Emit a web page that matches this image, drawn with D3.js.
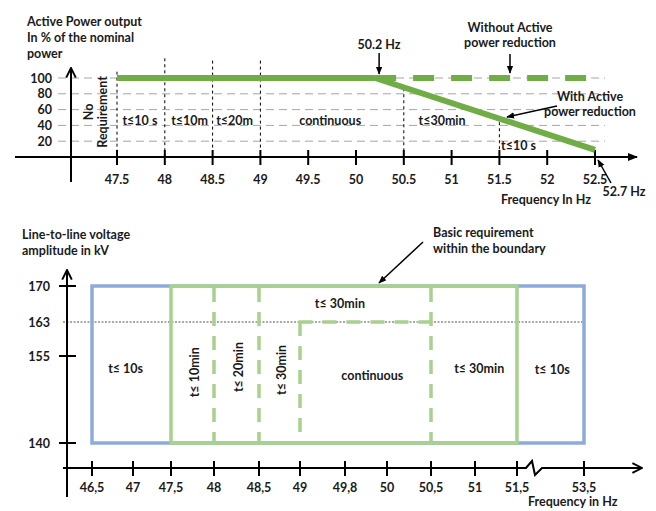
<!DOCTYPE html>
<html><head><meta charset="utf-8">
<script src="https://cdn.jsdelivr.net/npm/d3@7"></script>
<style>
body{margin:0;background:#fff;}
svg text{font-family:Lato,"Open Sans",sans-serif;fill:#1a1a1a;}
</style></head>
<body><svg id="c" width="656" height="511"></svg>
<script>
// ---------- DATA: top chart ----------
const topTicks = [47.5,48,48.5,49,49.5,50,50.5,51,51.5,52,52.5];
const topTickLabels = ["47.5","48","48.5","49","49.5","50","50.5","51","51.5","52","52.5"];
const topYTicks = [20,40,60,80,100];
const solidPower = [[47.5,100],[50.2,100]];
const noReduction = [[50.2,100],[52.5,100]];
const withReduction = [[50.2,100],[52.5,9]];
const topBoundFreq = [47.5,48,48.5,49,50.5,51.5];
const topBoundTop  = [108,125,122,122,87,44];
const topZoneLabels = ["t≤10 s","t≤10m","t≤20m","continuous","t≤30min","t≤10 s"];
const topZoneFreq   = [47.74,48.26,48.73,49.73,50.9,51.7];
const topZoneVal    = [46,46,46,46,46,15];

// ---------- DATA: bottom chart ----------
const botTicks = [46.5,47,47.5,48,48.5,49,49.8,50,50.5,51,51.5,53.5];
const botTickLabels = ["46,5","47","47,5","48","48,5","49","49,8","50","50,5","51","51,5","53,5"];
const botYTicks = [140,155,163,170];
const outerBox = [46.5,53.5,140,170];   // f0,f1,v0,v1
const basicBox = [47.5,51.5,140,170];
const dashedV = [[48,170],[48.5,170],[49,163],[50.5,170]]; // freq, top voltage (down to 140)
const dashedH = [49,50.5,163];
const botZoneLabels = ["t≤ 10s","continuous","t≤ 30min","t≤ 10s","t≤ 30min"];
const botZoneFreq   = [46.91,49.93,51.05,52.55,49.71];
const botZoneVal    = [152.9,151.7,152.9,152.6,166.6];
const botRotLabels = ["t≤ 10min","t≤ 20min","t≤ 30min"];
const botRotFreq   = [47.78,48.28,48.78];
const botRotVal    = [152.2,153.1,152.6];

// layout (screen positions of the schematic, non-uniform axes)
const botTickPx = [92,133,171,214,259,300,345,387,431,475,517,584];
const botYPx = [443,356,322,286];

const svg = d3.select("#c");
const defs = svg.append("defs");
function marker(id, path, w, filled){
  defs.append("marker").attr("id",id).attr("viewBox","0 0 10 10").attr("refX",9).attr("refY",5)
   .attr("markerWidth",w).attr("markerHeight",w).attr("orient","auto").attr("markerUnits","userSpaceOnUse")
   .append("path").attr("d",path)
   .attr("fill",filled?"#000":"none").attr("stroke","#000").attr("stroke-width",filled?0:1.6);
}
marker("tri","M0,1 L10,5 L0,9 Z",10,true);
marker("chev","M1,1 L9,5 L1,9",12,false);
marker("ann","M0,1 L10,5 L0,9 Z",8,true);

// ================= TOP CHART =================
const xT = d3.scaleLinear().domain([47.5,52.5]).range([117,595]);
const yT = d3.scaleLinear().domain([0,100]).range([157,78]);
const gT = svg.append("g");

gT.selectAll(".grid").data(topYTicks).join("line")
  .attr("x1",58).attr("x2",605).attr("y1",d=>yT(d)).attr("y2",d=>yT(d))
  .attr("stroke","#a6a6a6").attr("stroke-width",1).attr("stroke-dasharray","8,5");
gT.selectAll(".ylab").data(topYTicks).join("text")
  .attr("x",52).attr("y",d=>yT(d)+4.5).attr("text-anchor","end")
  .attr("font-size",12.5).attr("font-weight",700).text(d=>d);

gT.selectAll(".bnd").data(topBoundFreq).join("line")
  .attr("x1",d=>xT(d)).attr("x2",d=>xT(d)).attr("y1",(d,i)=>yT(topBoundTop[i])).attr("y2",yT(0))
  .attr("stroke","#000").attr("stroke-width",1).attr("stroke-dasharray","3,3");

gT.append("line").attr("x1",15).attr("x2",637).attr("y1",yT(0)).attr("y2",yT(0))
  .attr("stroke","#000").attr("stroke-width",2).attr("marker-end","url(#tri)");
gT.append("line").attr("x1",71).attr("x2",71).attr("y1",182).attr("y2",68)
  .attr("stroke","#000").attr("stroke-width",2).attr("marker-end","url(#chev)");
gT.selectAll(".tk").data(topTicks).join("line")
  .attr("x1",d=>xT(d)).attr("x2",d=>xT(d)).attr("y1",yT(0)-7).attr("y2",yT(0)+8)
  .attr("stroke","#000").attr("stroke-width",2);
gT.selectAll(".xl").data(topTicks).join("text")
  .attr("x",d=>xT(d)).attr("y",184).attr("text-anchor","middle")
  .attr("font-size",12.5).attr("font-weight",700).text((d,i)=>topTickLabels[i]);

const lineT = d3.line().x(d=>xT(d[0])).y(d=>yT(d[1]));
const green = "#70ad47";
gT.append("path").attr("d",lineT(withReduction)).attr("fill","none").attr("stroke",green).attr("stroke-width",6);
gT.append("path").attr("d",lineT(solidPower)).attr("fill","none").attr("stroke",green).attr("stroke-width",6);
gT.append("path").attr("d",lineT(noReduction)).attr("fill","none").attr("stroke",green).attr("stroke-width",6)
  .attr("stroke-dasharray","21,17");

gT.selectAll(".zl").data(topZoneLabels).join("text")
  .attr("x",(d,i)=>xT(topZoneFreq[i])).attr("y",(d,i)=>yT(topZoneVal[i])+4.5)
  .attr("text-anchor","middle").attr("font-size",12.5).attr("font-weight",700).text(d=>d);
const nr = gT.append("text").attr("transform",`translate(${xT(47.5)-22},${yT(57)}) rotate(-90)`)
  .attr("text-anchor","middle").attr("font-size",12.5).attr("font-weight",700);
nr.append("tspan").attr("x",0).attr("dy",-2).text("No");
nr.append("tspan").attr("x",0).attr("dy",14).text("Requirement");

function multi(g,x,y,lines,anchor,lh){
  const t=g.append("text").attr("x",x).attr("y",y).attr("text-anchor",anchor)
    .attr("font-size",12.5).attr("font-weight",700);
  lines.forEach((l,i)=>t.append("tspan").attr("x",x).attr("dy",i?lh:0).text(l));
}
multi(gT,27,26,["Active Power output","In % of the nominal","power"],"start",16);
multi(gT,xT(50.2)+4,49,["50.2 Hz"],"middle",15);
multi(gT,510,32,["Without Active","power reduction"],"middle",15);
multi(gT,590,101,["With Active","power reduction"],"middle",15);
multi(gT,624,196,["52.7 Hz"],"middle",15);
multi(gT,546,204,["Frequency In Hz"],"middle",15);
function arrow(g,x1,y1,x2,y2){
  g.append("line").attr("x1",x1).attr("y1",y1).attr("x2",x2).attr("y2",y2)
   .attr("stroke","#000").attr("stroke-width",1.5).attr("marker-end","url(#ann)");
}
arrow(gT,xT(50.2)+4,53,xT(50.2)+4,74);
arrow(gT,510,54,510,73);
arrow(gT,557,106,507,117);
arrow(gT,611,183,598,160);

// ================= BOTTOM CHART =================
const xB = d3.scaleLinear().domain(botTicks).range(botTickPx);
const yB = d3.scaleLinear().domain(botYTicks).range(botYPx);
const gB = svg.append("g");
const blue = "#8eaadb", lgreen = "#a9d18e";

gB.append("line").attr("x1",63).attr("x2",xB(53.5)).attr("y1",yB(163)).attr("y2",yB(163))
  .attr("stroke","#8c8c8c").attr("stroke-width",1.6).attr("stroke-dasharray","2,1.5");

function box(b,col){
  gB.append("rect").attr("x",xB(b[0])).attr("y",yB(b[3]))
   .attr("width",xB(b[1])-xB(b[0])).attr("height",yB(b[2])-yB(b[3]))
   .attr("fill","none").attr("stroke",col).attr("stroke-width",3.5);
}
box(outerBox,blue);
box(basicBox,lgreen);
gB.selectAll(".dv").data(dashedV).join("line")
  .attr("x1",d=>xB(d[0])).attr("x2",d=>xB(d[0])).attr("y1",d=>yB(d[1])+ (d[1]===170?2:0)).attr("y2",yB(140)-2)
  .attr("stroke",lgreen).attr("stroke-width",3.5).attr("stroke-dasharray","14,10");
gB.append("line").attr("x1",xB(dashedH[0])-1.5).attr("x2",xB(dashedH[1])).attr("y1",yB(dashedH[2])).attr("y2",yB(dashedH[2]))
  .attr("stroke",lgreen).attr("stroke-width",3.5).attr("stroke-dasharray","14,10");

const axY = 468;
gB.append("path").attr("d",`M63,${axY} L${xB(51.5)+9},${axY} L${xB(51.5)+15},${axY-7} L${xB(51.5)+18},${axY+7} L${xB(51.5)+25},${axY} L642,${axY}`)
  .attr("fill","none").attr("stroke","#000").attr("stroke-width",2).attr("marker-end","url(#chev)");
gB.append("line").attr("x1",67).attr("x2",67).attr("y1",497).attr("y2",270)
  .attr("stroke","#000").attr("stroke-width",2).attr("marker-end","url(#chev)");
gB.selectAll(".ytk").data(botYTicks.filter(d=>d!==163)).join("line")
  .attr("x1",59).attr("x2",76).attr("y1",d=>yB(d)).attr("y2",d=>yB(d)).attr("stroke","#000").attr("stroke-width",2);
gB.selectAll(".yl").data(botYTicks).join("text")
  .attr("x",50).attr("y",d=>yB(d)+4.5).attr("text-anchor","end")
  .attr("font-size",12.5).attr("font-weight",700).text(d=>d);
gB.selectAll(".xtk").data(botTicks).join("line")
  .attr("x1",d=>xB(d)).attr("x2",d=>xB(d)).attr("y1",axY-7).attr("y2",axY+8).attr("stroke","#000").attr("stroke-width",2);
gB.selectAll(".xl").data(botTicks).join("text")
  .attr("x",d=>xB(d)).attr("y",492).attr("text-anchor","middle")
  .attr("font-size",12.5).attr("font-weight",700).text((d,i)=>botTickLabels[i]);

gB.selectAll(".zl").data(botZoneLabels).join("text")
  .attr("x",(d,i)=>xB(botZoneFreq[i])).attr("y",(d,i)=>yB(botZoneVal[i])+4.5)
  .attr("text-anchor","middle").attr("font-size",12.5).attr("font-weight",700).text(d=>d);
gB.selectAll(".rl").data(botRotLabels).join("text")
  .attr("transform",(d,i)=>`translate(${xB(botRotFreq[i])+4},${yB(botRotVal[i])}) rotate(-90)`)
  .attr("text-anchor","middle").attr("font-size",12.5).attr("font-weight",700).text(d=>d);

multi(gB,22,239,["Line-to-line voltage","amplitude in kV"],"start",16);
multi(gB,433,237,["Basic requirement","within the boundary"],"start",16);
multi(gB,528,506,["Frequency in Hz"],"start",16);
arrow(gB,423,242,379,283);
</script></body></html>
